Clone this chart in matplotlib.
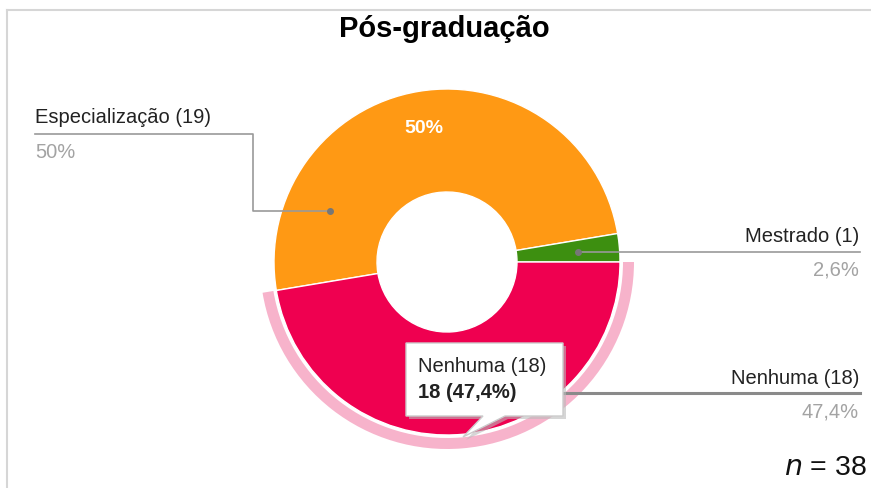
import matplotlib
matplotlib.use("Agg")
import matplotlib.pyplot as plt
from matplotlib.patches import Polygon
import numpy as np

# ---- data ----
title = "Pós-graduação"
categories = ["Especialização", "Mestrado", "Nenhuma"]
counts = [19, 1, 18]
pct_labels = ["50%", "2,6%", "47,4%"]
colors = ["#FF9914", "#3D8F10", "#EF0050"]
highlight_color = "#F7B3CB"
n_total = 38
tooltip_lines = ["Nenhuma (18)", "18 (47,4%)"]

W, H = 871, 488
plt.rcParams['font.family'] = ['Liberation Sans', 'DejaVu Sans']

fig = plt.figure(figsize=(W / 100, H / 100), dpi=100)
ax = fig.add_axes([0, 0, 1, 1])

def Y(y):
    return H - y

# frame
ax.plot([7, 7], [Y(10), Y(488)], color="#d6d6d6", lw=1.5, zorder=0)
ax.plot([7, W], [Y(10), Y(10)], color="#d6d6d6", lw=1.5, zorder=0)

cx, cy, R, r_in = 447, Y(262), 173, 70
start = 180 + 360 * counts[1] / sum(counts)

wedges, _ = ax.pie(counts, colors=colors, radius=R, center=(cx, cy),
                   startangle=start, counterclock=False,
                   wedgeprops=dict(width=R - r_in, edgecolor="white", linewidth=1))
# highlight ring around the selected slice (Nenhuma)
ring_colors = ["none", "none", highlight_color]
ax.pie(counts, colors=ring_colors, radius=187, center=(cx, cy),
       startangle=start, counterclock=False,
       wedgeprops=dict(width=11, edgecolor="none"))
ax.set_xlim(0, W)
ax.set_ylim(0, H)
ax.set_aspect('equal')
ax.axis('off')

FS = 14.5
dark = "#222222"
grey_txt = "#a3a3a3"

# inside percentage label
ax.text(424, Y(133), pct_labels[0], color="white", fontsize=14, fontweight="bold",
        ha="center", va="baseline")

line_c = "#999999"
# Especialização leader
ax.plot([330, 253, 253, 35], [Y(211), Y(211), Y(134), Y(134)], color=line_c, lw=1.2)
ax.plot([330], [Y(211)], 'o', color="#777777", ms=4)
ax.text(35, Y(123), f"{categories[0]} ({counts[0]})", fontsize=FS, color=dark,
        ha="left", va="baseline")
ax.text(35, Y(158), pct_labels[0], fontsize=FS, color=grey_txt, ha="left", va="baseline")

# Mestrado leader
ax.plot([578, 860], [Y(252), Y(252)], color=line_c, lw=1.2)
ax.plot([578], [Y(252)], 'o', color="#777777", ms=4)
ax.text(859, Y(242), f"{categories[1]} ({counts[1]})", fontsize=FS, color=dark,
        ha="right", va="baseline")
ax.text(859, Y(276), pct_labels[1], fontsize=FS, color=grey_txt, ha="right", va="baseline")

# Nenhuma leader (highlighted)
ax.plot([520, 860], [Y(393), Y(393)], color="#8a8a8a", lw=2.2)
ax.text(859, Y(384), f"{categories[2]} ({counts[2]})", fontsize=FS, color=dark,
        ha="right", va="baseline")
ax.text(859, Y(418), pct_labels[2], fontsize=FS, color=grey_txt, ha="right", va="baseline")

# tooltip
tip = [(406, 343), (563, 343), (563, 416), (505, 416), (463, 437), (483, 416), (406, 416)]
shadow = Polygon([(x + 3, Y(y + 3)) for x, y in tip], closed=True,
                 facecolor="#bbbbbb", edgecolor="none", alpha=0.6, zorder=5)
box = Polygon([(x, Y(y)) for x, y in tip], closed=True,
              facecolor="white", edgecolor="#cccccc", lw=1, zorder=6)
ax.add_patch(shadow)
ax.add_patch(box)
ax.text(418, Y(372), tooltip_lines[0], fontsize=FS, color=dark,
        ha="left", va="baseline", zorder=7)
ax.text(418, Y(398), tooltip_lines[1], fontsize=FS, color=dark, fontweight="bold",
        ha="left", va="baseline", zorder=7)

# title
ax.text(444, Y(37), title, fontsize=21, fontweight="bold", color="black",
        ha="center", va="baseline")

# n = 38
ax.text(867, Y(475), rf"$n$ = {n_total}", fontsize=20.5, color="#111111",
        ha="right", va="baseline")

fig.savefig("out.png", dpi=100)
